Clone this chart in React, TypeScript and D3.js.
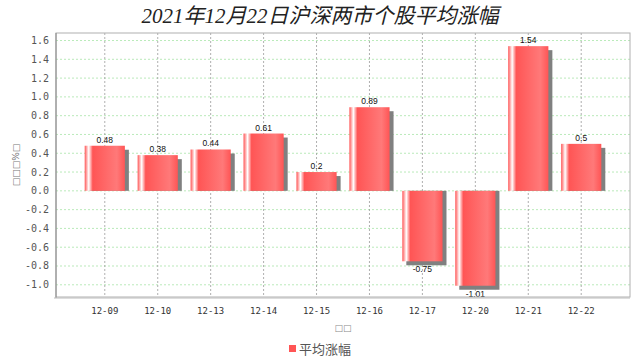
import React from "react";
import * as d3 from "d3";

const categories = ["12-09", "12-10", "12-13", "12-14", "12-15", "12-16", "12-17", "12-20", "12-21", "12-22"];
const values = [0.48, 0.38, 0.44, 0.61, 0.2, 0.89, -0.75, -1.01, 1.54, 0.5];
const yTicks = [-1.0, -0.8, -0.6, -0.4, -0.2, 0.0, 0.2, 0.4, 0.6, 0.8, 1.0, 1.2, 1.4, 1.6];
const title = "2021年12月22日沪深两市个股平均涨幅";
const seriesName = "平均涨幅";
const yLabel = "□□□%□";
const xLabel = "□□";

const W = 640, H = 360;
const plot = { left: 56, right: 630, top: 33, bottom: 297 };
const RED = "#ff5555";
const RED_B = "#ff7979";

export default function App() {
  const x = d3.scaleBand<string>()
    .domain(categories)
    .range([plot.left, plot.right])
    .paddingInner(0.241)
    .paddingOuter(0.542);
  const y = d3.scaleLinear().domain([-1.13, 1.68]).range([plot.bottom, plot.top]);
  const bw = x.bandwidth();
  const y0 = y(0);
  const fmt = d3.format(".1f");

  return (
    <svg width={W} height={H} style={{ position: "absolute", left: 0, top: 0, background: "#fff" }}>
      <defs>
        <linearGradient id="barGrad" x1="0" x2="1" y1="0" y2="0">
          <stop offset="0" stopColor={RED} />
          <stop offset="0.1" stopColor="#ffffff" />
          <stop offset="0.2" stopColor={RED} />
          <stop offset="0.8" stopColor={RED_B} />
          <stop offset="1" stopColor={RED} />
        </linearGradient>
      </defs>
      <rect x={0} y={0} width={W} height={H} fill="#fff" />
      <text x={320} y={23} textAnchor="middle" fontSize={21} fontStyle="italic"
        fontFamily="'Liberation Serif', 'Noto Sans CJK SC', serif" fill="#222">{title}</text>

      {/* plot background */}
      <rect x={plot.left} y={plot.top} width={plot.right - plot.left} height={plot.bottom - plot.top} fill="#fff" />
      {/* horizontal grid */}
      {yTicks.map((t) => (
        <line key={"h" + t} x1={plot.left} x2={plot.right} y1={y(t)} y2={y(t)}
          stroke="#a8e4a8" strokeWidth={0.8} strokeDasharray="2,2" />
      ))}
      {/* vertical grid */}
      {categories.map((c) => {
        const cx = (x(c) as number) + bw / 2;
        return <line key={"v" + c} x1={cx} x2={cx} y1={plot.top} y2={plot.bottom}
          stroke="#9a9a9a" strokeWidth={0.8} strokeDasharray="2,2" />;
      })}

      {/* bars */}
      {categories.map((c, i) => {
        const v = values[i];
        const bx = x(c) as number;
        const yv = y(v);
        const top = Math.min(yv, y0);
        const h = Math.abs(yv - y0);
        const shadow = v >= 0
          ? { x: bx + 4, y: top + 4, w: bw, h: h - 4 }
          : { x: bx + 4, y: y0, w: bw, h: h + 4 };
        return (
          <g key={"b" + c}>
            <rect x={shadow.x} y={shadow.y} width={shadow.w} height={Math.max(0, shadow.h)} fill="#808080" />
            <rect x={bx} y={top} width={bw} height={h} fill="url(#barGrad)" />
            <text x={bx + bw / 2} y={v >= 0 ? top - 3 : top + h + 11} textAnchor="middle" fontSize={8.5}
              fontFamily="'Liberation Sans', sans-serif" fill="#111">{String(v)}</text>
          </g>
        );
      })}

      {/* plot outline & axes */}
      <rect x={plot.left} y={plot.top} width={plot.right - plot.left} height={plot.bottom - plot.top}
        fill="none" stroke="#b0b0b0" strokeWidth={1} />
      <line x1={plot.left} x2={plot.left} y1={plot.top} y2={plot.bottom + 1} stroke="#888" strokeWidth={1} />
      <line x1={plot.left - 2} x2={plot.right} y1={plot.bottom + 1} y2={plot.bottom + 1} stroke="#bbb" strokeWidth={1} />

      {/* y ticks */}
      {yTicks.map((t) => (
        <text key={"yt" + t} x={49} y={y(t) + 3.5} textAnchor="end" fontSize={10}
          fontFamily="'DejaVu Sans Mono', monospace" fill="#555">{fmt(t).replace("−", "-")}</text>
      ))}
      {/* x ticks */}
      {categories.map((c) => (
        <text key={"xt" + c} x={(x(c) as number) + bw / 2} y={313.5} textAnchor="middle" fontSize={9}
          fontFamily="'DejaVu Sans Mono', monospace" fill="#333">{c}</text>
      ))}

      <text transform={`translate(19,165) rotate(-90)`} textAnchor="middle" fontSize={9}
        fontFamily="'DejaVu Sans', sans-serif" fill="#777">{yLabel}</text>
      <text x={(plot.left + plot.right) / 2} y={331} textAnchor="middle" fontSize={9}
        fontFamily="'DejaVu Sans', sans-serif" fill="#888">{xLabel}</text>

      {/* legend */}
      <rect x={289} y={345} width={7} height={7} fill={RED} />
      <text x={299} y={354} fontSize={13} fontFamily="'Noto Sans CJK SC', sans-serif" fill="#555">{seriesName}</text>
    </svg>
  );
}
